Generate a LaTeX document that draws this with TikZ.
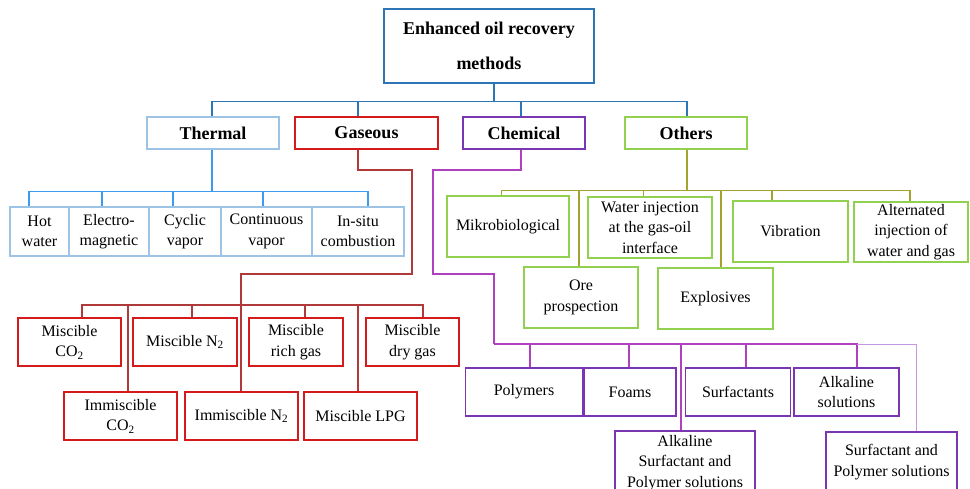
\documentclass[tikz,border=0pt]{standalone}
\usepackage{fontspec}
\setmainfont{Liberation Serif}
\definecolor{eorblue}{HTML}{2E75B6}
\definecolor{thermbox}{HTML}{9DC3E6}
\definecolor{thermline}{HTML}{3C9BF0}
\definecolor{gasbox}{HTML}{D41A1A}
\definecolor{gasline}{HTML}{B03A3A}
\definecolor{chembox}{HTML}{7A35B0}
\definecolor{chemline}{HTML}{B040C0}
\definecolor{chemlight}{HTML}{C497DE}
\definecolor{othbox}{HTML}{92D050}
\definecolor{othline}{HTML}{A3A32E}
\tikzset{
  box/.style={draw, line width=1.2pt, align=center, inner sep=0pt, font=\fontsize{16}{20.5}\selectfont},
  headbox/.style={box, font=\bfseries\fontsize{18}{22}\selectfont},
  link/.style={line width=1.6pt},
}
\begin{document}
\begin{tikzpicture}[x=1pt,y=-1pt]
\useasboundingbox (0,0) rectangle (970,489);

\node[headbox, draw=eorblue, minimum width=210pt, minimum height=74pt, font=\bfseries\fontsize{18}{35}\selectfont] (eor) at (489,46) {Enhanced oil recovery\\methods};

\node[headbox, draw=thermbox, minimum width=132pt, minimum height=32pt] (thermal) at (213,133) {Thermal};
\node[headbox, draw=gasbox, minimum width=143pt, minimum height=32pt] (gaseous) at (366.5,133) {Gaseous};
\node[headbox, draw=chembox, minimum width=122pt, minimum height=32pt] (chemical) at (524,133) {Chemical};
\node[headbox, draw=othbox, minimum width=122pt, minimum height=32pt] (others) at (686,133) {Others};

\node[box, draw=thermbox, minimum width=59pt, minimum height=49pt] (hot) at (39.5,231.5) {Hot\\water};
\node[box, draw=thermbox, minimum width=80pt, minimum height=49pt] (electro) at (109,231.5) {Electro-\\magnetic};
\node[box, draw=thermbox, minimum width=72pt, minimum height=49pt] (cyclic) at (185,231.5) {Cyclic\\vapor};
\node[box, draw=thermbox, minimum width=91pt, minimum height=49pt] (continuous) at (266.5,231.5) {Continuous\\vapor};
\node[box, draw=thermbox, minimum width=92pt, minimum height=49pt] (insitu) at (358,231.5) {In-situ\\combustion};

\node[box, draw=gasbox, minimum width=103pt, minimum height=48pt] (mco) at (69.5,342) {Miscible\\CO\textsubscript{2}};
\node[box, draw=gasbox, minimum width=104pt, minimum height=48pt] (mnit) at (185,342) {Miscible N\textsubscript{2}};
\node[box, draw=gasbox, minimum width=94pt, minimum height=48pt] (mrich) at (296,342) {Miscible\\rich gas};
\node[box, draw=gasbox, minimum width=93pt, minimum height=48pt] (mdry) at (412.5,342) {Miscible\\dry gas};
\node[box, draw=gasbox, minimum width=113pt, minimum height=48pt] (ico) at (120.5,416) {Immiscible\\CO\textsubscript{2}};
\node[box, draw=gasbox, minimum width=113pt, minimum height=48pt] (initr) at (241.5,416) {Immiscible N\textsubscript{2}};
\node[box, draw=gasbox, minimum width=113pt, minimum height=48pt] (lpg) at (360.5,416) {Miscible LPG};

\node[box, draw=chembox, minimum width=117pt, minimum height=48pt] (polymers) at (524,392) {Polymers};
\node[box, draw=chembox, minimum width=92pt, minimum height=48pt] (foams) at (630,392) {Foams};
\node[box, draw=chembox, minimum width=105pt, minimum height=48pt] (surfactants) at (738,392) {Surfactants};
\node[box, draw=chembox, minimum width=105pt, minimum height=48pt] (alksol) at (846.5,392) {Alkaline\\solutions};
\node[box, draw=chembox, minimum width=140pt, minimum height=64pt] (asp) at (685,463) {Alkaline\\Surfactant and\\Polymer solutions};
\node[box, draw=chembox, minimum width=131pt, minimum height=60pt] (sp) at (891.5,462) {Surfactant and\\Polymer solutions};

\node[box, draw=othbox, minimum width=122pt, minimum height=61pt] (mikro) at (508,226.5) {Mikrobiological};
\node[box, draw=othbox, minimum width=124pt, minimum height=61pt] (water) at (650,227.5) {Water injection\\at the gas-oil\\interface};
\node[box, draw=othbox, minimum width=114pt, minimum height=61pt] (ore) at (581,297.5) {Ore\\prospection};
\node[box, draw=othbox, minimum width=115pt, minimum height=61pt] (explosives) at (715.5,298.5) {Explosives};
\node[box, draw=othbox, minimum width=115pt, minimum height=61pt] (vibration) at (790.5,231.5) {Vibration};
\node[box, draw=othbox, minimum width=114pt, minimum height=60pt] (alternated) at (911,232) {Alternated\\injection of\\water and gas};

\draw[link, eorblue] ([xshift=5pt]eor.south) -- ++(0,18) coordinate (topbus);
\foreach \n/\dx in {thermal/-1, gaseous/-8.5, chemical/-3, others/1}
  \draw[link, eorblue] ([xshift=\dx pt]\n.north) |- (topbus);

\draw[link, thermline] ([xshift=-1pt]thermal.south) -- ++(0,42) coordinate (thbus);
\foreach \n/\dx in {hot/-10.5, electro/-7, cyclic/-12, continuous/-3.5, insitu/10}
  \draw[link, thermline] ([xshift=\dx pt]\n.north) |- (thbus);

\draw[link, gasline] ([xshift=-8.5pt]gaseous.south) |- (412,170) |- (241,274) -- (241,305) coordinate (gasbus);
\foreach \n/\dx in {mco/12.5, mnit/7, mrich/9, mdry/10.5, ico/7.5, initr/-0.5, lpg/-2.5}
  \draw[link, gasline] ([xshift=\dx pt]\n.north) |- (gasbus);

\draw[link, chemline] ([xshift=-3pt]chemical.south) |- (433,170) |- (494,274) -- (494,344) coordinate (chembus);
\foreach \n/\dx in {polymers/6, foams/-1, surfactants/8, alksol/10.5, asp/-4}
  \draw[link, chemline] ([xshift=\dx pt]\n.north) |- (chembus);
\draw[chemlight, line width=1pt] ([xshift=24.5pt]sp.north) |- ([xshift=10.5pt]alksol.north |- chembus);

\draw[link, othline] ([xshift=1pt]others.south) -- ++(0,41) coordinate (othbus);
\foreach \n/\dx in {mikro/-6.5, water/-6.5, ore/-2, explosives/5.5, vibration/-18.5, alternated/-1}
  \draw[link, othline] ([xshift=\dx pt]\n.north) |- (othbus);
\end{tikzpicture}
\end{document}
